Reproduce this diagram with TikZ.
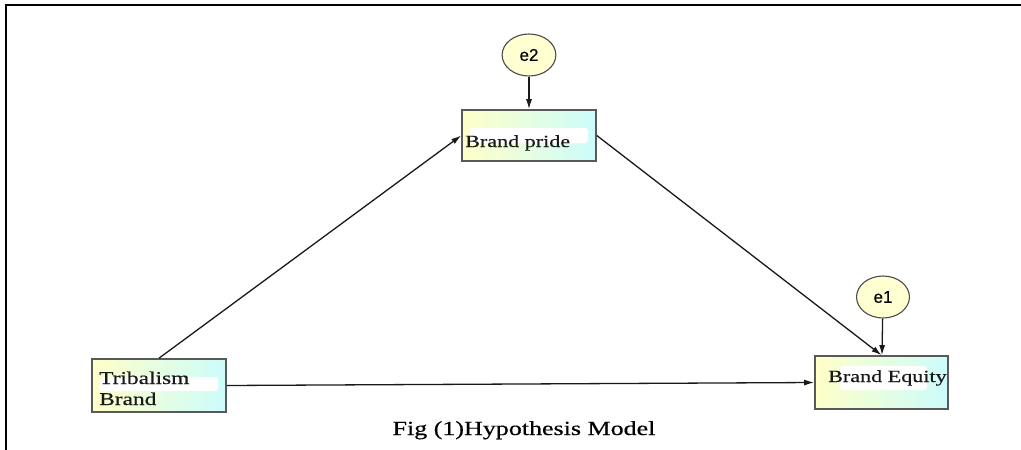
\documentclass[tikz,border=0pt]{standalone}
\usepackage{fontspec}
\setmainfont{Liberation Serif}[FakeBold=0.4]
\newfontfamily\efont{Liberation Sans}[FakeBold=0.4]
\usetikzlibrary{arrows.meta}
\definecolor{boxleft}{HTML}{FFFFC8}
\definecolor{boxright}{HTML}{CCFCFC}
\definecolor{circfill}{HTML}{FFFFD2}
\newcommand{\widetxt}[1]{\scalebox{1.3}[1]{#1}}
\tikzset{
  varbox/.style={draw=black!65, line width=1.6pt, left color=boxleft, right color=boxright, inner sep=0pt},
  errcirc/.style={draw=black!70, line width=1.1pt, fill=circfill, circle, minimum size=42pt, inner sep=0pt},
  conn/.style={-{Latex[length=10pt,width=6pt]}, line width=1.3pt, black!90},
  boxtext/.style={anchor=base west, inner sep=0pt, text=black!90, font=\fontsize{17}{20}\selectfont},
  patch/.style={fill=white, draw=none, rounded corners=3pt},
}
\begin{document}
\begin{tikzpicture}[x=1pt,y=-1pt]
\useasboundingbox (0,0) rectangle (1021,450);
% frame
\draw[line width=2pt] (6,451) -- (6,5) -- (1022,5);

% boxes
\node[varbox, minimum width=134pt, minimum height=51pt] (brand) at (529,135.5) {};
\node[varbox, minimum width=134pt, minimum height=53pt] (trib) at (159,385.5) {};
\node[varbox, minimum width=133pt, minimum height=53pt] (equity) at (881.5,382.5) {};

% white highlight patches
\fill[patch] (470,128) rectangle (588,143);
\fill[patch] (100,377) rectangle (218,391);
\fill[patch] (840,366) rectangle (927,390);

% error terms
\node[errcirc, xscale=1.28] (e2) at (529,55) {};
\node[errcirc, xscale=1.26] (e1) at (883,297) {};
\node[font=\efont\fontsize{17}{20}\selectfont] (e2t) at (529,55) {e2};
\node[font=\efont\fontsize{17}{20}\selectfont] (e1t) at (883,297) {e1};

% texts
\node[boxtext] (brandt) at (465,147) {\widetxt{Brand pride}};
\node[boxtext, font=\fontsize{18}{21}\selectfont] (tribt1) at (99,384) {\widetxt{Tribalism}};
\node[boxtext, font=\fontsize{18}{21}\selectfont] (tribt2) at (99,405) {\widetxt{Brand}};
\node[boxtext] (equityt) at (828,382) {\widetxt{Brand Equity}};

% connectors
\draw[conn] (e2) -- (brand);
\draw[conn] (e1) -- (equity);
\draw[conn] (trib.north) -- (brand.west);
\draw[conn] (brand.east) -- (equity.north);
\draw[conn] (trib.east) -- (equity.west);

% caption
\node[anchor=base, inner sep=0pt, font=\fontsize{20}{24}\selectfont] (caption) at (524,435) {\widetxt{Fig (1)Hypothesis Model}};
\end{tikzpicture}
\end{document}
